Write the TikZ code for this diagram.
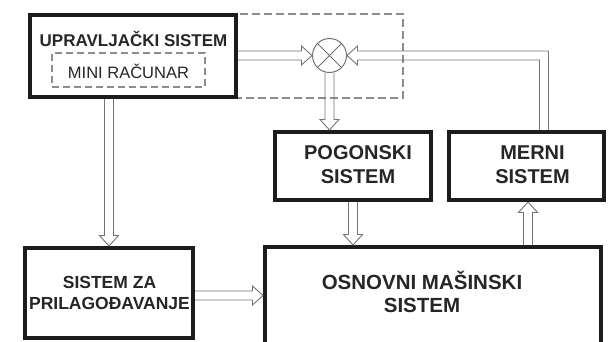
\documentclass[tikz,border=0pt]{standalone}
\usepackage{fontspec}
\setmainfont{Liberation Sans}
\usetikzlibrary{calc}
\definecolor{boxc}{RGB}{28,28,28}
\definecolor{txtc}{RGB}{38,38,38}
\definecolor{linegray}{RGB}{115,115,115}
\definecolor{dashgray}{RGB}{140,140,140}
\tikzset{
  sysbox/.style={draw=boxc, line width=4pt, fill=white, rectangle, inner sep=0pt},
  boldtxt/.style 2 args={text=txtc, font=\bfseries\fontsize{#1}{#2}\selectfont, align=center, inner sep=0pt},
  plaintxt/.style 2 args={text=txtc, font=\fontsize{#1}{#2}\selectfont, align=center, inner sep=0pt},
  dashbox/.style={draw=dashgray, line width=1.2pt, dash pattern=on 8pt off 4pt},
  arrline/.style={draw=linegray, line width=0.9pt, line join=miter},
  harrow/.style={arrline, to path={
    ($(\tikztostart)!4.5pt!90:(\tikztotarget)$)
    -- ($($(\tikztotarget)!10.5pt!(\tikztostart)$)!4.5pt!90:(\tikztotarget)$)
    -- ($($(\tikztotarget)!10.5pt!(\tikztostart)$)!9.5pt!90:(\tikztotarget)$)
    -- (\tikztotarget)
    -- ($($(\tikztotarget)!10.5pt!(\tikztostart)$)!9.5pt!-90:(\tikztotarget)$)
    -- ($($(\tikztotarget)!10.5pt!(\tikztostart)$)!4.5pt!-90:(\tikztotarget)$)
    -- ($(\tikztostart)!4.5pt!-90:(\tikztotarget)$)
  }}
}
\begin{document}
\begin{tikzpicture}[x=1pt,y=-1pt]
\useasboundingbox (0,0) rectangle (609,341);
% dashed enclosure (left part hidden by the control box)
\coordinate (dtl) at (150,14);
\coordinate (dbr) at (403,98);
\draw[dashbox] (dtl) rectangle (dbr);

% boxes
\node[sysbox, minimum width=206pt, minimum height=82pt] (up) at (133,56) {};
\node[sysbox, minimum width=156pt, minimum height=68pt] (pog) at (353,166) {};
\node[sysbox, minimum width=155pt, minimum height=68pt] (mer) at (526.5,166) {};
\node[sysbox, minimum width=336pt, minimum height=110pt] (osn) at (433,302) {};
\node[sysbox, minimum width=168pt, minimum height=90pt] (pril) at (109,293) {};
\node[draw=dashgray, line width=1.2pt, dash pattern=on 7pt off 4pt, minimum width=153pt, minimum height=34pt, inner sep=0pt] (mini) at (128.5,70) {};

% summing junction
\node[circle, draw=linegray, line width=1pt, minimum size=34pt, inner sep=0pt] (circ) at (329.5,55.5) {};
\draw[linegray, line width=1pt] (circ.north west) -- (circ.south east) (circ.north east) -- (circ.south west);

% texts
\node[boldtxt={17}{20}] (upT) at (133.5,39) {UPRAVLJAČKI SISTEM};
\node[plaintxt={16.5}{19}] (miniT) at (128.5,71) {MINI RAČUNAR};
\node[boldtxt={20}{24}] (pogT) at (358,165) {POGONSKI\\SISTEM};
\node[boldtxt={20}{24}] (merT) at (532.5,165) {MERNI\\SISTEM};
\node[boldtxt={20.5}{23}] (osnT) at (422,291.5) {OSNOVNI MAŠINSKI\\SISTEM};
\node[boldtxt={17.5}{21}] (prilT) at (109.5,292.5) {SISTEM ZA\\PRILAGOĐAVANJE};

% connector end points
\coordinate (a1s) at (up.east |- circ.center);
\coordinate (a1e) at (circ.west);
\coordinate (a2s) at (circ.south);
\coordinate (a2e) at (circ.south |- pog.north);
\coordinate (a3s) at (pril.north |- up.south);
\coordinate (a3e) at (pril.north);
\coordinate (a4s) at (pog.south);
\coordinate (a4e) at (pog.south |- osn.north);
\coordinate (a5s) at ($(mer.south |- osn.north)+(1.5,0)$);
\coordinate (a5e) at ($(mer.south)+(1.5,0)$);
\coordinate (a6s) at ($(pril.east)+(0,2.5)$);
\coordinate (a6e) at (a6s -| osn.west);
\coordinate (fbS) at ($(mer.north)+(17.5,0)$);

\draw[harrow] (a1s) to (a1e);
\draw[harrow] (a2s) to (a2e);
\draw[harrow] (a3s) to (a3e);
\draw[harrow] (a4s) to (a4e);
\draw[harrow] (a5s) to (a5e);
\draw[harrow] (a6s) to (a6e);
% feedback path
\draw[arrline] ($(fbS)+(4.5,0)$) |- ($(circ.east)+(10.5,-4.5)$) -- ++(0,-5) -- (circ.east)
  -- ($(circ.east)+(10.5,9.5)$) -- ++(0,-5) -| ($(fbS)+(-4.5,0)$);
\end{tikzpicture}
\end{document}
